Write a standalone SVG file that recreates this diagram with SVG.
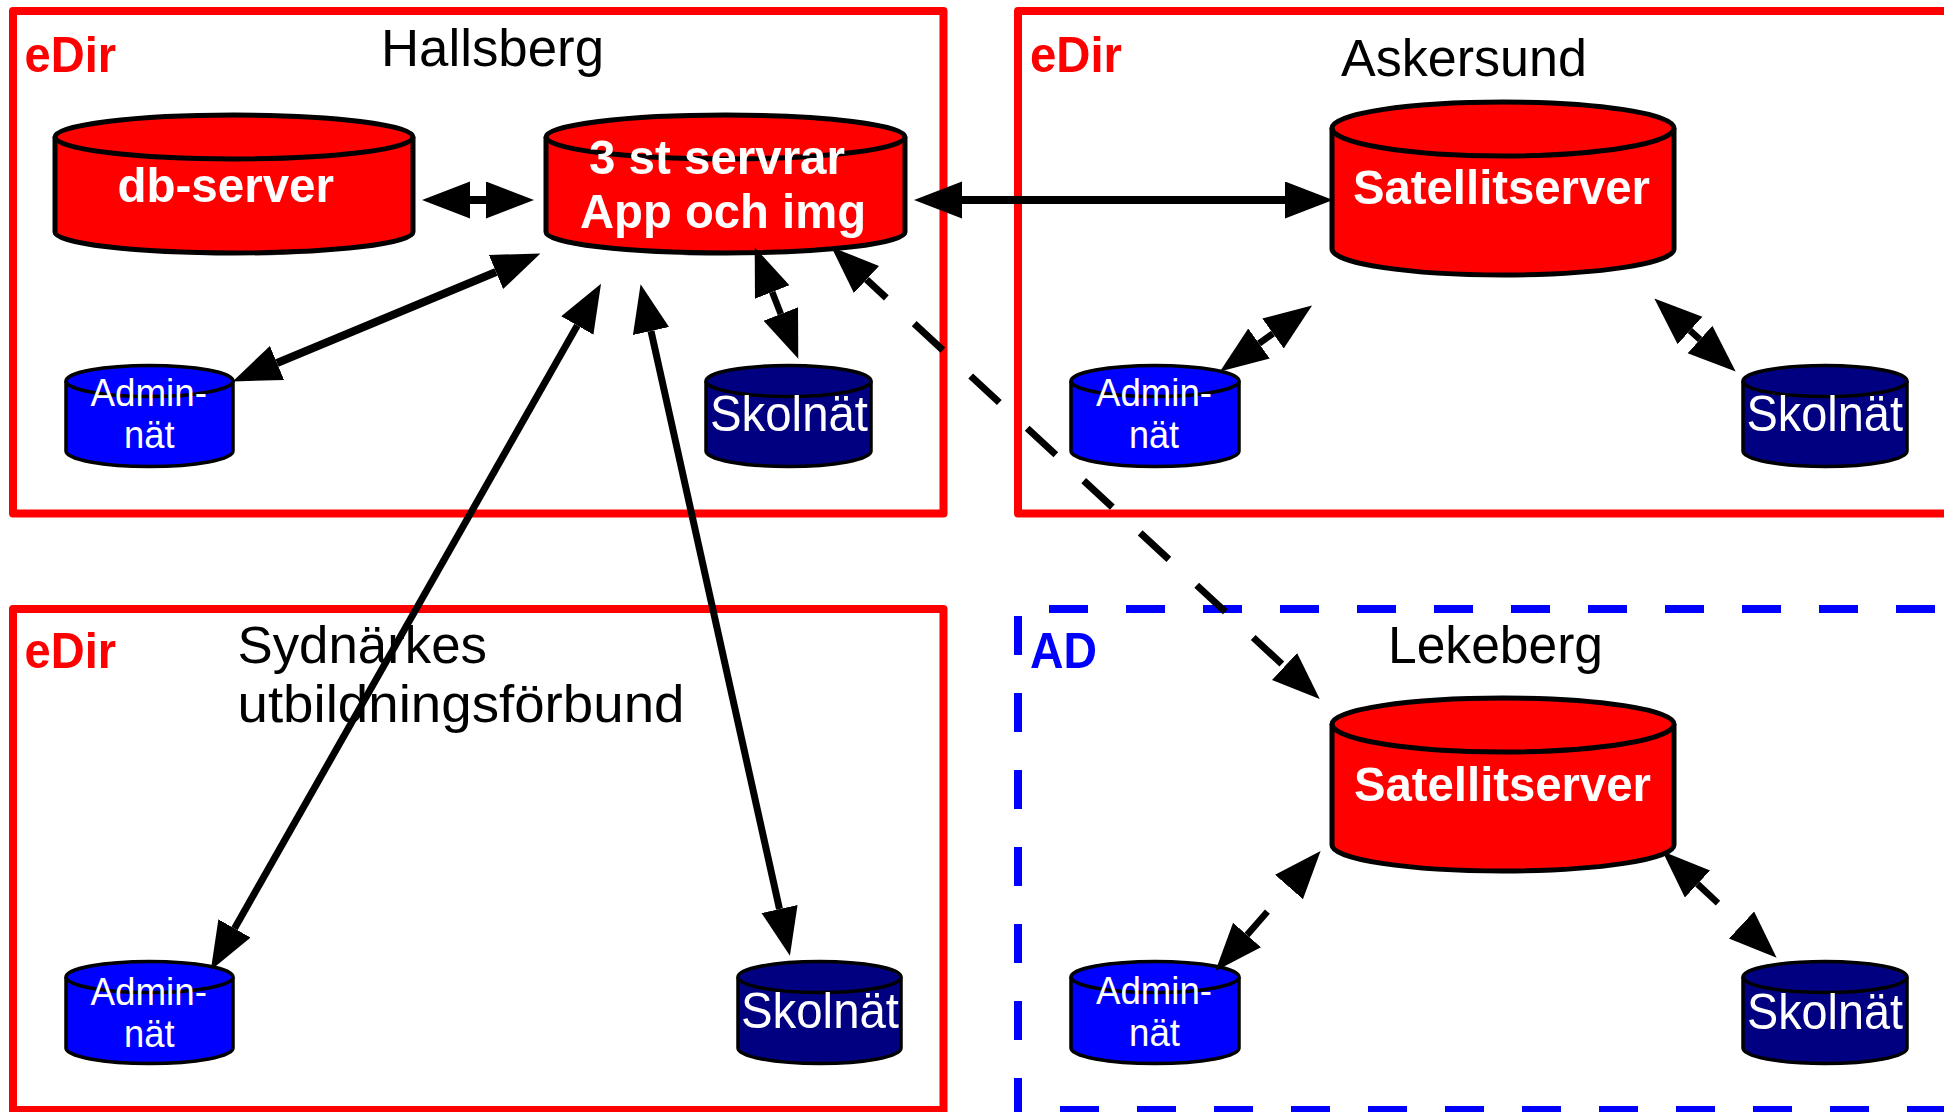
<svg xmlns="http://www.w3.org/2000/svg" width="1944" height="1112" viewBox="0 0 1944 1112">
<style>
.box{fill:none;stroke:#f00;stroke-width:8;stroke-linejoin:round}
.adbox{fill:none;stroke:#00f;stroke-width:8;stroke-dasharray:39 38}
.cyl{stroke:#000;stroke-linejoin:round}
.big{stroke-width:5}
.small{stroke-width:3.5}
.r{fill:#f00}.b{fill:#00f}.n{fill:#000080}
.lid{fill:none;stroke:#000}
text{font-family:"Liberation Sans",Arial,sans-serif}
.title{font-size:51px;fill:#000}
.tag{font-size:50px;font-weight:bold}
.bold{font-size:49px;font-weight:bold;fill:#fff}
.adm{font-size:38px;fill:#fff}
.sko{font-size:50px;fill:#fff}
.c{fill:none;stroke:#000;marker-start:url(#h);marker-end:url(#h)}
.w7{stroke-width:8}.w6{stroke-width:7}.w5{stroke-width:6.5}
.dash{stroke-dasharray:39 38}
</style>
<defs>
<marker id="h" markerUnits="userSpaceOnUse" markerWidth="50" markerHeight="38" refX="0" refY="18.5" orient="auto-start-reverse" viewBox="0 0 50 38"><path d="M0,0L48,18.5L0,37Z" fill="#000"/></marker>
</defs>
<rect width="1944" height="1112" fill="#fff"/>

<g id="hallsberg-box">
<rect class="box" x="13" y="11" width="930.5" height="502.5"/>
<text class="tag" x="24.5" y="71.5" fill="#f00" textLength="91.5" lengthAdjust="spacingAndGlyphs">eDir</text>
<text class="title" x="381" y="66" textLength="223" lengthAdjust="spacingAndGlyphs">Hallsberg</text>
</g>
<g id="askersund-box">
<path class="box" d="M1960,11H1018V513.5H1960"/>
<text class="tag" x="1030" y="71.5" fill="#f00" textLength="92" lengthAdjust="spacingAndGlyphs">eDir</text>
<text class="title" x="1341" y="76" textLength="246" lengthAdjust="spacingAndGlyphs">Askersund</text>
</g>
<g id="sydnarke-box">
<path class="box" d="M13,1120V609H943.5V1120"/>
<path class="box" d="M13,1110H943.5"/>
<text class="tag" x="24.5" y="668" fill="#f00" textLength="91.5" lengthAdjust="spacingAndGlyphs">eDir</text>
<text class="title" x="237.5" y="663" textLength="249.5" lengthAdjust="spacingAndGlyphs">Sydnärkes</text>
<text class="title" x="237.5" y="722" textLength="447" lengthAdjust="spacingAndGlyphs">utbildningsförbund</text>
</g>
<g id="lekeberg-box">
<path class="adbox" d="M1049,609H1960"/>
<path class="adbox" d="M1018,616V1112"/>
<path class="adbox" d="M1060,1110H1960"/>
<text class="tag" x="1030" y="668" fill="#00f" textLength="67" lengthAdjust="spacingAndGlyphs">AD</text>
<text class="title" x="1388" y="663" textLength="215" lengthAdjust="spacingAndGlyphs">Lekeberg</text>
</g>

<g id="db-server">
<path class="cyl big r" d="M55,137A179,22 0 0 1 413,137V232A179,21 0 0 1 55,232Z"/>
<path class="lid big" d="M55,137A179,22 0 0 0 413,137"/>
<text class="bold" x="117.5" y="202" textLength="216.5" lengthAdjust="spacingAndGlyphs">db-server</text>
</g>
<g id="servrar">
<path class="cyl big r" d="M546,137A179.5,22 0 0 1 905,137V232A179.5,21 0 0 1 546,232Z"/>
<path class="lid big" d="M546,137A179.5,22 0 0 0 905,137"/>
<text class="bold" x="589" y="174" textLength="256" lengthAdjust="spacingAndGlyphs">3 st servrar</text>
<text class="bold" x="580" y="228" textLength="286" lengthAdjust="spacingAndGlyphs">App och img</text>
</g>
<g id="hallsberg-admin">
<path class="cyl small b" d="M66,381A83.5,15.5 0 0 1 233,381V451A83.5,15.5 0 0 1 66,451Z"/>
<path class="lid small" d="M66,381A83.5,15.5 0 0 0 233,381"/>
<text class="adm" x="90.5" y="406" textLength="116.5" lengthAdjust="spacingAndGlyphs">Admin-</text>
<text class="adm" x="124" y="448" textLength="50.5" lengthAdjust="spacingAndGlyphs">nät</text>
</g>
<g id="hallsberg-skolnat">
<path class="cyl small n" d="M706,381A82.5,15.5 0 0 1 871,381V451A82.5,15.5 0 0 1 706,451Z"/>
<path class="lid small" d="M706,381A82.5,15.5 0 0 0 871,381"/>
<text class="sko" x="710" y="431" textLength="158" lengthAdjust="spacingAndGlyphs">Skolnät</text>
</g>
<g id="askersund-satellit">
<path class="cyl big r" d="M1332,128A171,26 0 0 1 1674,128V249A171,26 0 0 1 1332,249Z"/>
<path class="lid big" d="M1332,128A171,28 0 0 0 1674,128"/>
<text class="bold" x="1353" y="204" textLength="297" lengthAdjust="spacingAndGlyphs">Satellitserver</text>
</g>
<g id="askersund-admin">
<path class="cyl small b" d="M1071,381A84,15.5 0 0 1 1239,381V451A84,15.5 0 0 1 1071,451Z"/>
<path class="lid small" d="M1071,381A84,15.5 0 0 0 1239,381"/>
<text class="adm" x="1096" y="406" textLength="116" lengthAdjust="spacingAndGlyphs">Admin-</text>
<text class="adm" x="1129" y="448" textLength="50" lengthAdjust="spacingAndGlyphs">nät</text>
</g>
<g id="askersund-skolnat">
<path class="cyl small n" d="M1743,381A82,15.5 0 0 1 1907,381V451A82,15.5 0 0 1 1743,451Z"/>
<path class="lid small" d="M1743,381A82,15.5 0 0 0 1907,381"/>
<text class="sko" x="1746.5" y="431" textLength="156.5" lengthAdjust="spacingAndGlyphs">Skolnät</text>
</g>
<g id="sydnarke-admin">
<path class="cyl small b" d="M66,977A83.5,15.5 0 0 1 233,977V1048A83.5,15.5 0 0 1 66,1048Z"/>
<path class="lid small" d="M66,977A83.5,15.5 0 0 0 233,977"/>
<text class="adm" x="90.5" y="1005" textLength="116.5" lengthAdjust="spacingAndGlyphs">Admin-</text>
<text class="adm" x="124" y="1047" textLength="50.5" lengthAdjust="spacingAndGlyphs">nät</text>
</g>
<g id="sydnarke-skolnat">
<path class="cyl small n" d="M738,977A81.5,15.5 0 0 1 901,977V1048A81.5,15.5 0 0 1 738,1048Z"/>
<path class="lid small" d="M738,977A81.5,15.5 0 0 0 901,977"/>
<text class="sko" x="741" y="1028" textLength="158" lengthAdjust="spacingAndGlyphs">Skolnät</text>
</g>
<g id="lekeberg-satellit">
<path class="cyl big r" d="M1332,724A171,26 0 0 1 1674,724V845A171,26 0 0 1 1332,845Z"/>
<path class="lid big" d="M1332,724A171,28 0 0 0 1674,724"/>
<text class="bold" x="1354" y="801" textLength="297" lengthAdjust="spacingAndGlyphs">Satellitserver</text>
</g>
<g id="lekeberg-admin">
<path class="cyl small b" d="M1071,977A84,15.5 0 0 1 1239,977V1048A84,15.5 0 0 1 1071,1048Z"/>
<path class="lid small" d="M1071,977A84,15.5 0 0 0 1239,977"/>
<text class="adm" x="1096" y="1004" textLength="116" lengthAdjust="spacingAndGlyphs">Admin-</text>
<text class="adm" x="1129" y="1046" textLength="51" lengthAdjust="spacingAndGlyphs">nät</text>
</g>
<g id="lekeberg-skolnat">
<path class="cyl small n" d="M1743,977A82,15.5 0 0 1 1907,977V1048A82,15.5 0 0 1 1743,1048Z"/>
<path class="lid small" d="M1743,977A82,15.5 0 0 0 1907,977"/>
<text class="sko" x="1747" y="1029" textLength="156" lengthAdjust="spacingAndGlyphs">Skolnät</text>
</g>

<g id="connectors">
<path class="c w7" d="M470,200H486"/>
<path class="c w7" d="M962,200H1285"/>
<path class="c w7" d="M277,363L496,272"/>
<path class="c w6" d="M234.5,928.5L577.3,325.5"/>
<path class="c w6" d="M651,331L779.5,909"/>
<path class="c w5" d="M772.2,292L780.8,314"/>
<path class="c w6 dash" stroke-dashoffset="12" d="M866.5,279.5L1284.5,666.5"/>
<path class="c w5" d="M1259,343.5L1273,333.5"/>
<path class="c w5" d="M1690,330.5L1700,339.5"/>
<path class="c w5 dash" stroke-dashoffset="8" d="M1247,935L1289,887"/>
<path class="c w5 dash" stroke-dashoffset="11" d="M1697.5,884L1741.5,925"/>
</g>
</svg>
